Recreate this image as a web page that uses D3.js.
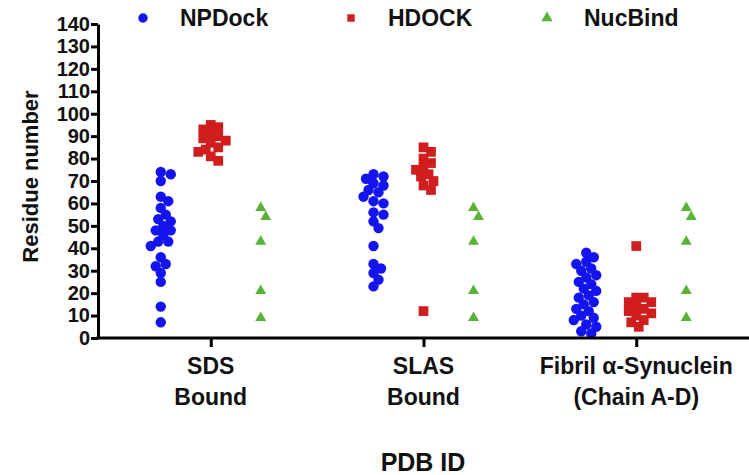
<!DOCTYPE html>
<html>
<head>
<meta charset="utf-8">
<script src="https://cdn.jsdelivr.net/npm/d3@7"></script>
<style>
  body { margin: 0; background: #fff; }
  text { font-family: "Liberation Sans", Arial, sans-serif; font-weight: bold; fill: #111; }
  .narrow text { font-family: "Liberation Sans Narrow", "Arial Narrow", "Liberation Sans", sans-serif; }
</style>
</head>
<body>
<div class="container"></div>
<script>
// chart data
const categories = [["SDS", "Bound"], ["SLAS", "Bound"], ["Fibril α-Synuclein", "(Chain A-D)"]];
const seriesNames = ["NPDock", "HDOCK", "NucBind"];
const yTicks = d3.range(0, 141, 10);

const npdock = [
  [74, 73, 70, 63, 61, 58, 55, 53, 52, 50, 48, 48, 46, 43, 43, 41, 36, 33, 32, 29, 25, 14, 7],
  [73, 72, 71, 69, 68, 66, 65, 63, 61, 60, 56, 55, 52, 49, 41, 33, 31, 29, 26, 23],
  [38, 36, 34, 33, 31, 30, 28, 27, 25, 24, 22, 21, 19, 18, 16, 15, 13, 12, 10, 9, 8, 6, 5, 3, 2]
];
const hdock = [
  [95, 94, 93, 91, 90, 89, 88, 87, 85, 84, 83, 81, 79],
  [85, 83, 80, 78, 76, 75, 73, 72, 70, 68, 66, 12],
  [41, 18, 18, 16, 16, 14, 13, 12, 11, 10, 8, 7, 5]
];
const nucbind = [
  [58, 54, 43, 21, 9],
  [58, 54, 43, 21, 9],
  [58, 54, 43, 21, 9]
];

const width = 749;
const height = 475;
const margin = { top: 24, bottom: 137, left: 98, right: 0 };

const svg = d3.select(".container")
  .append("svg")
  .attr("width", width)
  .attr("height", height);

// scales
const x = d3.scalePoint()
  .domain(d3.range(categories.length))
  .range([margin.left, width - margin.right])
  .padding(0.53);

const y = d3.scaleLinear()
  .domain([0, 140])
  .range([height - margin.bottom, margin.top]);

const colors = ["#1414ee", "#d01e1e", "#58b336"];
const shift = [-50, 0, 50]; // series side by side inside each category
const size = 10;
const overlap = [0.8, 0.72, 0.95]; // how close points may sit before being pushed aside

// simple column scatter: push points sideways so they don't sit on top of each other
function swarm(values, cx, minDist) {
  const placed = [];
  const sorted = values.slice().sort((a, b) => b - a);
  sorted.forEach(v => {
    const py = y(v);
    let k = 0, px = cx;
    while (true) {
      const off = k === 0 ? 0 : (k % 2 ? 1 : -1) * Math.ceil(k / 2) * 2.5;
      px = cx + off;
      const hit = placed.some(p => Math.hypot(p.x - px, p.y - py) < minDist);
      if (!hit || k > 20) break;
      k++;
    }
    placed.push({ x: px, y: py, v: v });
  });
  return placed;
}

const allSeries = [npdock, hdock, nucbind];
const symbols = [d3.symbolCircle, d3.symbolSquare, d3.symbolTriangle];
const symArea = [Math.PI * 27, 95, 52];

allSeries.forEach((series, s) => {
  const g = svg.append("g");
  series.forEach((vals, c) => {
    const pts = swarm(vals, x(c) + shift[s], size * overlap[s]);
    g.selectAll(null)
      .data(pts)
      .enter()
      .append("path")
      .attr("d", d3.symbol().type(symbols[s]).size(symArea[s]))
      .attr("transform", d => `translate(${d.x},${d.y})`)
      .attr("fill", colors[s]);
  });
});

// y axis
const yAxis = svg.append("g")
  .attr("class", "narrow")
  .attr("transform", `translate(${margin.left},0)`)
  .call(d3.axisLeft(y).tickValues(yTicks).tickSize(7).tickPadding(1).tickSizeOuter(0));
yAxis.select(".domain").attr("stroke", "#000").attr("stroke-width", 3);
yAxis.selectAll(".tick line").attr("stroke", "#000").attr("stroke-width", 3);
yAxis.selectAll(".tick text").style("font-size", "20px").attr("fill", "#111");

// x axis
const xAxis = svg.append("g")
  .attr("transform", `translate(0,${y(0)})`)
  .call(d3.axisBottom(x).tickSize(9).tickSizeOuter(0).tickFormat(""));
xAxis.select(".domain").attr("stroke", "#000").attr("stroke-width", 3)
  .attr("d", `M${margin.left - 1.5},0H${width}`);
xAxis.selectAll(".tick line").attr("stroke", "#000").attr("stroke-width", 3);

// two line category labels
categories.forEach((lines, c) => {
  const t = svg.append("text")
    .attr("x", x(c))
    .attr("y", 374)
    .attr("text-anchor", "middle")
    .style("font-size", "23px");
  lines.forEach((line, i) => {
    t.append("tspan")
      .attr("x", x(c))
      .attr("dy", i === 0 ? 0 : 31)
      .text(line);
  });
});

// axis titles
svg.append("text")
  .attr("x", 423)
  .attr("y", 471)
  .attr("text-anchor", "middle")
  .style("font-size", "25px")
  .text("PDB ID");

svg.append("text")
  .attr("transform", `translate(38,${y(72)}) rotate(-90)`)
  .attr("text-anchor", "middle")
  .style("font-size", "22px")
  .text("Residue number");

// legend
const legendX = [143, 351, 547];
seriesNames.forEach((name, s) => {
  svg.append("path")
    .attr("d", d3.symbol().type(symbols[s]).size(s === 0 ? 70 : 55))
    .attr("transform", `translate(${legendX[s]},18)`)
    .attr("fill", colors[s]);
  svg.append("text")
    .attr("x", legendX[s] + 37)
    .attr("y", 26)
    .style("font-size", "23px")
    .text(name);
});
</script>
</body>
</html>
